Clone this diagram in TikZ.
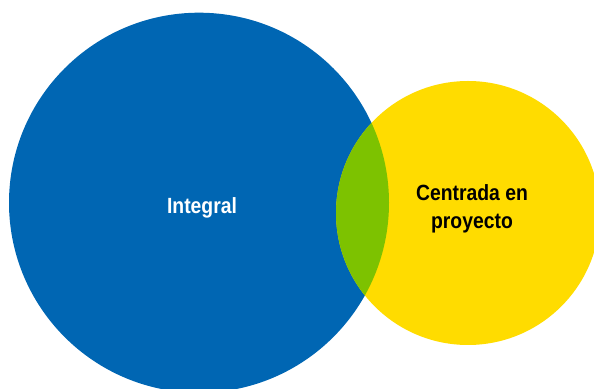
\documentclass[tikz,border=0pt]{standalone}
\usepackage{fontspec}
\setmainfont{Liberation Sans}[FakeStretch=0.88]
\definecolor{azul}{HTML}{0066B3}
\definecolor{amarillo}{HTML}{FFDC00}
\definecolor{verde}{HTML}{7DC200}
\begin{document}
\begin{tikzpicture}[x=1pt,y=1pt,
                disc/.style={circle, draw=none, inner sep=0pt},
                label/.style={font=\bfseries\fontsize{22}{27.5}\selectfont, align=center}]
  \useasboundingbox (0,0) rectangle (594,388);
  \clip (0,0) rectangle (594,388);

  \node[disc, fill=azul, minimum size=380pt] (integral) at (199,185.3) {};
  \node[disc, fill=amarillo, minimum size=264pt] (proyecto) at (468,175) {};
  % zona comun
  \begin{scope}
    \clip (integral.center) circle (190);
    \fill[verde] (proyecto.center) circle (132);
  \end{scope}

  \node[label, text=white] (tintegral) at (202,180) {Integral};
  \node[label, text=black] (tproyecto) at (472,179) {Centrada en\\proyecto};
\end{tikzpicture}
\end{document}
